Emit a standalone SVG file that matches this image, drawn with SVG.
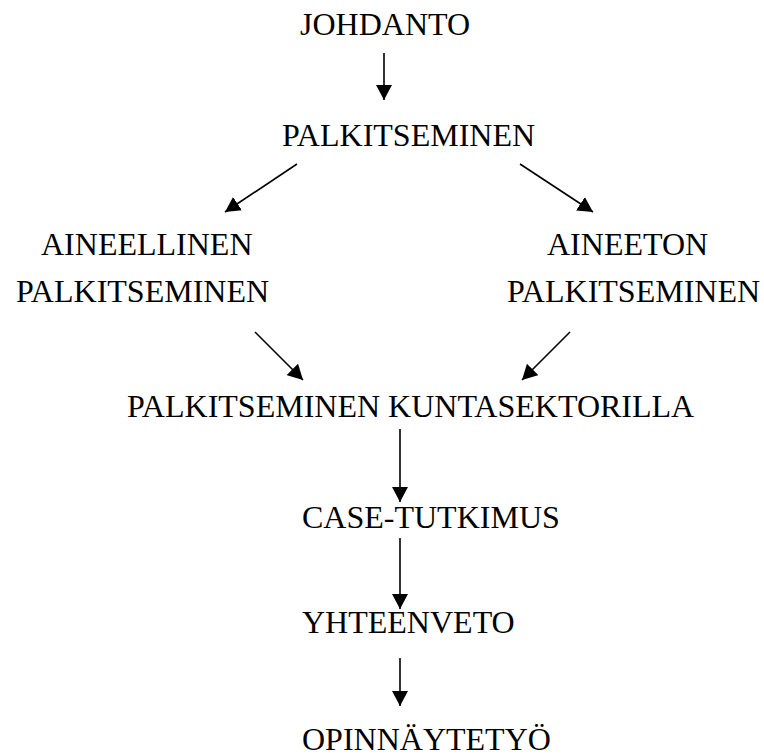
<svg xmlns="http://www.w3.org/2000/svg" width="764" height="756" viewBox="0 0 764 756">
<defs>
<marker id="ah" markerUnits="userSpaceOnUse" markerWidth="16" markerHeight="16" refX="15" refY="8" orient="auto">
<path d="M0,0 L15,8 L0,16 Z" fill="#000"/>
</marker>
<style>
text { font-family: "Liberation Serif", "Times New Roman", serif; font-size: 32px; fill: #000; }
.c line { stroke: #000; stroke-width: 1.6; marker-end: url(#ah); }
</style>
</defs>
<rect width="764" height="756" fill="#fff"/>
<g id="n-johdanto"><text x="300" y="35">JOHDANTO</text></g>
<g id="n-palkitseminen"><text x="282" y="146">PALKITSEMINEN</text></g>
<g id="n-aineellinen"><text x="41" y="255">AINEELLINEN</text><text x="16" y="302">PALKITSEMINEN</text></g>
<g id="n-aineeton"><text x="547" y="255">AINEETON</text><text x="507" y="302">PALKITSEMINEN</text></g>
<g id="n-kunta"><text x="127" y="417">PALKITSEMINEN KUNTASEKTORILLA</text></g>
<g id="n-case"><text x="302" y="528">CASE-TUTKIMUS</text></g>
<g id="n-yhteenveto"><text x="302" y="633">YHTEENVETO</text></g>
<g id="n-opinnaytetyo"><text x="302" y="750">OPINNÄYTETYÖ</text></g>
<g id="connectors" class="c">
<line x1="384" y1="53" x2="384" y2="100"/>
<line x1="297" y1="164" x2="225" y2="212"/>
<line x1="520" y1="164" x2="593" y2="212"/>
<line x1="255" y1="332" x2="303" y2="380"/>
<line x1="570" y1="332" x2="522" y2="380"/>
<line x1="400" y1="429" x2="400" y2="502"/>
<line x1="400" y1="538" x2="400" y2="609"/>
<line x1="400" y1="658" x2="400" y2="706"/>
</g>
</svg>
